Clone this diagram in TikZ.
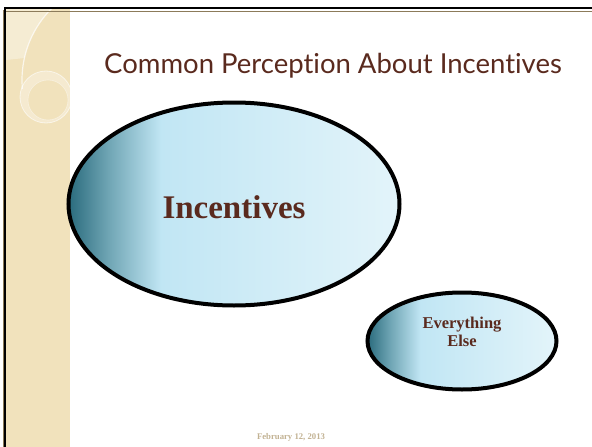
\documentclass[tikz,border=0pt]{standalone}
\usepackage{fontspec}
\setmainfont{Liberation Serif}
\newfontfamily\titlefont[Ligatures=NoCommon]{Lato}
\usetikzlibrary{positioning,shapes.geometric}

\definecolor{slidebrown}{HTML}{5A2A1E}
\definecolor{stripbeige}{HTML}{F1E2BC}
\definecolor{stripline}{HTML}{8C7B5A}
\definecolor{datetan}{HTML}{C2B293}
\definecolor{tealdark}{HTML}{2A6B7D}
\definecolor{tealmid}{HTML}{6FA5B4}
\definecolor{skyblue}{HTML}{C1E6F4}
\definecolor{paleblue}{HTML}{E3F4FA}

\pgfdeclarehorizontalshading{ovalfill}{100bp}{color(0bp)=(tealdark); color(25bp)=(tealdark);
  color(31bp)=(tealmid); color(39bp)=(skyblue); color(75bp)=(paleblue); color(100bp)=(paleblue)}

\begin{document}
\begin{tikzpicture}[x=1pt,y=-1pt]
    \useasboundingbox (0,0) rectangle (592,447);
    %%%%% THE STRIP
    \begin{scope}
      \fill[stripbeige] (6,9) rectangle (70,447);
      \clip (6,9) rectangle (70,447);
      \fill[white,opacity=.35] (6,9) -- (51.2,9) arc[start angle=224.7,end angle=192.6,radius=101]
        -- (6,60) -- cycle;
      \begin{scope}
        \clip (6,9) rectangle (70,88);
        \draw[white,opacity=.7,line width=1.2pt] (123,80) circle (101);
      \end{scope}
      \fill[white,opacity=.3,even odd rule] (46,97) circle (26) (48,100) circle (20);
      \draw[white,opacity=.6,line width=.8pt] (46,97) circle (26);
      \draw[white,opacity=.4,line width=.6pt] (48,100) circle (20);
    \end{scope}
    %%%%% THE FRAME
    \draw[stripline,line width=1pt] (3,447) -- (3,10) (6,11) -- (592,11);
    \draw[line width=2pt] (5,447) -- (5,8) -- (592,8);
    %%%%% THE TITLE
    \node[anchor=base west,font=\titlefont\fontsize{27.5}{32}\selectfont,text=slidebrown,inner sep=0pt]
      (title) at (104,73) {Common Perception About Incentives};
    %%%%% THE OVALS
    \begin{scope}[every node/.style={ellipse,draw=black,line width=4pt,shading=ovalfill,inner sep=0pt}]
      \node[minimum width=331pt,minimum height=203pt] (incentives) at (234,204) {};
      \node[minimum width=189pt,minimum height=97pt] (everything) at (462,341) {};
    \end{scope}
    %%%%% THE LABELS
    \begin{scope}[every node/.style={text=slidebrown,align=center,inner sep=0pt}]
      \node[font=\bfseries\fontsize{33}{38}\selectfont] (incentivestext) at ([yshift=-3pt]incentives.center) {Incentives};
      \node[font=\bfseries\fontsize{16.5}{18}\selectfont] (everythingtext) at ([yshift=9pt]everything.center) {Everything\\Else};
    \end{scope}
    %%%%% THE DATE
    \node[anchor=base,font=\bfseries\fontsize{8.7}{10}\selectfont,text=datetan,inner sep=0pt]
      (date) at (291,439) {February 12, 2013};
\end{tikzpicture}
\end{document}
